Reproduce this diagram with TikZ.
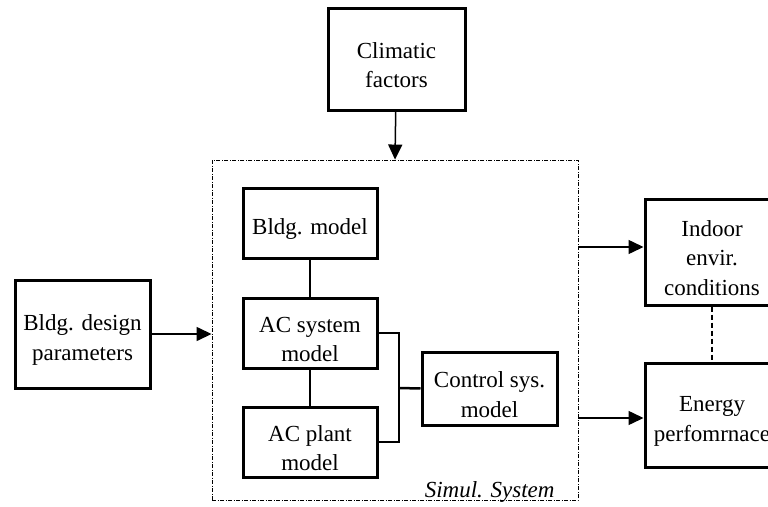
\documentclass[tikz,border=0pt]{standalone}
\usepackage{fontspec}
\setmainfont{Liberation Serif}
\usetikzlibrary{positioning,arrows.meta,calc}
\newcommand{\lowr}{\rule{0pt}{28pt}}

\begin{document}
\begin{tikzpicture}[x=1pt, y=-1pt,
  >={Triangle[length=15pt, width=14pt]},
  blk/.style={draw, line width=3pt, align=center, inner sep=0pt,
              font=\fontsize{23}{29.5}\selectfont,
              minimum width=134pt, minimum height=70pt},
  simbox/.style={draw, line width=0.9pt,
                 dash pattern=on 4pt off 1.5pt on 1pt off 1.5pt,
                 minimum width=366pt, minimum height=340pt, inner sep=0pt},
  link/.style={line width=1.5pt}]
  \useasboundingbox (0,0) rectangle (768,506);
  \clip (0,0) rectangle (768,506);
  \node[simbox] (sim) at (395,330) {};
  \node[blk, minimum width=137pt, minimum height=102pt] (clim) at (396.5,59) {\lowr Climatic\\factors};
  \node[blk, minimum width=135pt, minimum height=108pt] (des) at (82.5,334) {\lowr Bldg. design\\parameters};
  \node[blk] (bm) at (310,223) {\lowr Bldg. model};
  \node[blk] (acs) at (310,333) {\lowr AC system\\model};
  \node[blk] (acp) at (310,442) {\lowr AC plant\\model};
  \node[blk, minimum width=135pt, minimum height=73pt] (ctl) at (489.5,388.5) {\lowr Control sys.\\model};
  \node[blk, minimum height=106pt] (ind) at (712,252) {\lowr Indoor\\envir.\\conditions};
  \node[blk, minimum height=104pt] (egy) at (712,415) {\lowr Energy\\perfomrnace};
  \node[anchor=base east, font=\fontsize{23}{28}\selectfont\itshape] (lbl) at (558,497) {Simul. System};
  \coordinate (j) at (399,388);
  \draw[->, link] (clim) -- (sim.north);
  \draw[->, link] (des.east) -- (des.east -| sim.west);
  \draw[->, link] ($(sim.east |- ind.west)+(0,-5)$) -- ($(ind.west)+(0,-5)$);
  \draw[->, link] ($(sim.east |- egy.west)+(0,3)$) -- ($(egy.west)+(0,3)$);
  \draw[link, dashed, dash pattern=on 5pt off 3pt] (ind) -- (egy);
  \draw[link] (bm) -- (acs);
  \draw[link] (acs) -- (acp);
  \draw[link] (acs.east) -| (j) |- (acp.east);
  \draw[line width=2.5pt] (j) -- (ctl.west);
\end{tikzpicture}
\end{document}
